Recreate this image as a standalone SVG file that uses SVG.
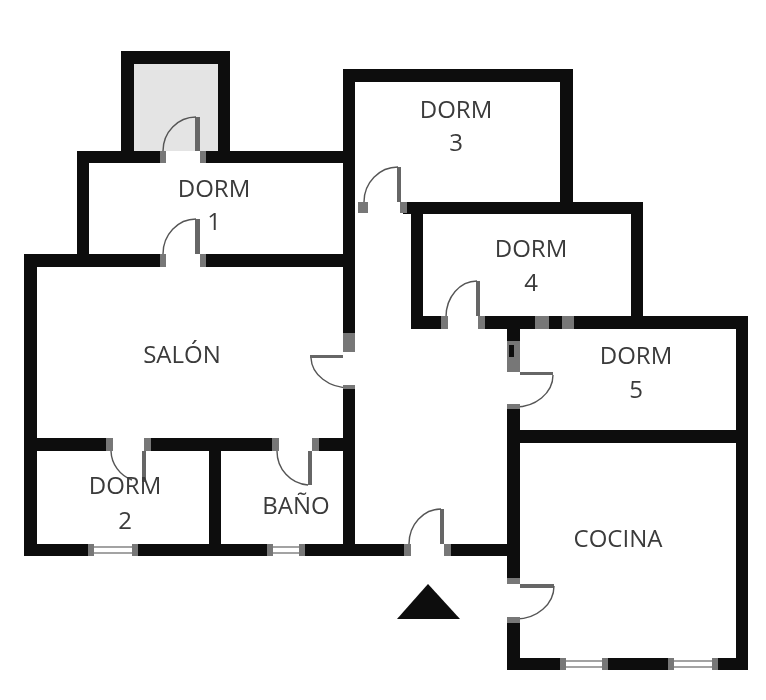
<svg xmlns="http://www.w3.org/2000/svg" width="766" height="700" viewBox="0 0 766 700">
<style>
.w{fill:#0a0a0a}
.j{fill:#777}
.l{fill:#666}
.a{fill:none;stroke:#555;stroke-width:1.4}
.g{fill:#fff;stroke:#666;stroke-width:1.2}
text{font-family:"Open Sans","Noto Sans",sans-serif;font-size:24px;fill:#3a3a3a;text-anchor:middle}
</style>
<defs><filter id="soft" x="0" y="0" width="100%" height="100%"><feGaussianBlur stdDeviation="0.55"/></filter></defs>
<rect width="766" height="700" fill="#fff"/>
<g filter="url(#soft)">
<rect x="134" y="64" width="84" height="87" fill="#e4e4e4"/>
<g id="walls">
<rect class="w" x="121" y="51" width="109" height="13"/>
<rect class="w" x="121" y="51" width="13" height="101"/>
<rect class="w" x="218" y="51" width="12" height="101"/>
<rect class="w" x="77" y="151" width="86" height="12"/>
<rect class="w" x="205" y="151" width="138" height="12"/>
<rect class="w" x="77" y="151" width="12" height="104"/>
<rect class="w" x="24" y="254" width="139" height="13"/>
<rect class="w" x="205" y="254" width="138" height="13"/>
<rect class="w" x="24" y="254" width="13" height="302"/>
<rect class="w" x="343" y="69" width="12" height="264"/>
<rect class="w" x="343" y="388" width="12" height="168"/>
<rect class="w" x="343" y="69" width="230" height="13"/>
<rect class="w" x="560" y="69" width="13" height="134"/>
<rect class="w" x="403" y="202" width="240" height="12"/>
<rect class="w" x="631" y="202" width="12" height="115"/>
<rect class="w" x="411" y="202" width="12" height="127"/>
<rect class="w" x="411" y="316" width="30" height="13"/>
<rect class="w" x="481" y="316" width="267" height="13"/>
<rect class="w" x="736" y="316" width="12" height="354"/>
<rect class="w" x="507" y="329" width="13" height="12"/>
<rect class="w" x="507" y="407" width="13" height="171"/>
<rect class="w" x="507" y="623" width="13" height="47"/>
<rect class="w" x="507" y="658" width="241" height="12"/>
<rect class="w" x="520" y="430" width="216" height="13"/>
<rect class="w" x="37" y="438" width="70" height="13"/>
<rect class="w" x="150" y="438" width="125" height="13"/>
<rect class="w" x="317" y="438" width="26" height="13"/>
<rect class="w" x="209" y="451" width="12" height="93"/>
<rect class="w" x="24" y="544" width="381" height="12"/>
<rect class="w" x="450" y="544" width="57" height="12"/>
</g>
<g id="windows">
<rect x="88" y="544" width="50" height="12" fill="#fff"/>
<rect class="g" x="93" y="547" width="40" height="6"/>
<rect class="j" x="88" y="544" width="6" height="12"/><rect class="j" x="132" y="544" width="6" height="12"/>
<rect x="267" y="544" width="38" height="12" fill="#fff"/>
<rect class="g" x="272" y="547" width="28" height="6"/>
<rect class="j" x="267" y="544" width="6" height="12"/><rect class="j" x="299" y="544" width="6" height="12"/>
<rect x="560" y="658" width="48" height="12" fill="#fff"/>
<rect class="g" x="565" y="661" width="38" height="6"/>
<rect class="j" x="560" y="658" width="6" height="12"/><rect class="j" x="602" y="658" width="6" height="12"/>
<rect x="668" y="658" width="50" height="12" fill="#fff"/>
<rect class="g" x="673" y="661" width="40" height="6"/>
<rect class="j" x="668" y="658" width="6" height="12"/><rect class="j" x="712" y="658" width="6" height="12"/>
</g>
<g id="doors">
<rect class="j" x="535" y="316" width="14" height="13"/><rect class="j" x="562" y="316" width="12" height="13"/>
<g id="door-closet"><rect class="l" x="195" y="117" width="5" height="34"/><path class="a" d="M196 117A33 34 0 0 0 163 151"/><rect class="j" x="160" y="151" width="6" height="12"/><rect class="j" x="200" y="151" width="6" height="12"/></g>
<g id="door-dorm1"><rect class="l" x="195" y="219" width="5" height="35"/><path class="a" d="M196 219A33 35 0 0 0 163 254"/><rect class="j" x="160" y="254" width="6" height="13"/><rect class="j" x="200" y="254" width="6" height="13"/></g>
<g id="door-dorm3"><rect class="l" x="397" y="167" width="4" height="35"/><path class="a" d="M398 167A34 35 0 0 0 364 202"/><rect class="j" x="358" y="202" width="10" height="11"/><rect class="j" x="400" y="202" width="7" height="11"/></g>
<g id="door-dorm4"><rect class="l" x="476" y="281" width="4" height="35"/><path class="a" d="M477 281A31 36 0 0 0 446 317"/><rect class="j" x="441" y="316" width="7" height="13"/><rect class="j" x="478" y="316" width="7" height="13"/></g>
<g id="door-dorm5"><rect class="j" x="507" y="341" width="13" height="31"/><rect class="w" x="509" y="345" width="5" height="12"/><rect class="l" x="520" y="372" width="33" height="3"/><path class="a" d="M553 375A38 32 0 0 1 514 407"/><rect class="j" x="507" y="404" width="13" height="5"/></g>
<g id="door-salon"><rect class="j" x="343" y="333" width="12" height="19"/><rect class="l" x="310" y="355" width="33" height="3"/><path class="a" d="M311 358A39 31 0 0 0 350 388"/><rect class="j" x="343" y="385" width="12" height="4"/></g>
<g id="door-dorm2"><rect class="l" x="142" y="451" width="4" height="31"/><path class="a" d="M111 451A32 32 0 0 0 132 480"/><rect class="j" x="106" y="438" width="7" height="13"/><rect class="j" x="144" y="438" width="7" height="13"/></g>
<g id="door-bano"><rect class="l" x="308" y="451" width="4" height="34"/><path class="a" d="M277 451A33 34 0 0 0 308 485"/><rect class="j" x="272" y="438" width="7" height="13"/><rect class="j" x="312" y="438" width="7" height="13"/></g>
<g id="door-entry"><rect class="l" x="440" y="509" width="4" height="35"/><path class="a" d="M441 509A32 35 0 0 0 409 544"/><rect class="j" x="404" y="544" width="7" height="12"/><rect class="j" x="444" y="544" width="7" height="12"/></g>
<g id="door-cocina"><rect class="l" x="520" y="584" width="34" height="4"/><path class="a" d="M554 586A38 33 0 0 1 516 619"/><rect class="j" x="507" y="578" width="13" height="6"/><rect class="j" x="507" y="617" width="13" height="6"/></g>
</g>
<polygon id="entry-mark" points="397,619 428,584 460,619" fill="#0a0a0a"/>
<g id="labels">
<text x="214" y="197">DORM</text><text x="214" y="230">1</text>
<text x="182" y="363">SALÓN</text>
<text x="456" y="118">DORM</text><text x="456" y="151">3</text>
<text x="531" y="257">DORM</text><text x="531" y="291">4</text>
<text x="636" y="364">DORM</text><text x="636" y="398">5</text>
<text x="125" y="494">DORM</text><text x="125" y="529">2</text>
<text x="296" y="514">BAÑO</text>
<text x="618" y="547">COCINA</text>
</g>
</g>
</svg>
